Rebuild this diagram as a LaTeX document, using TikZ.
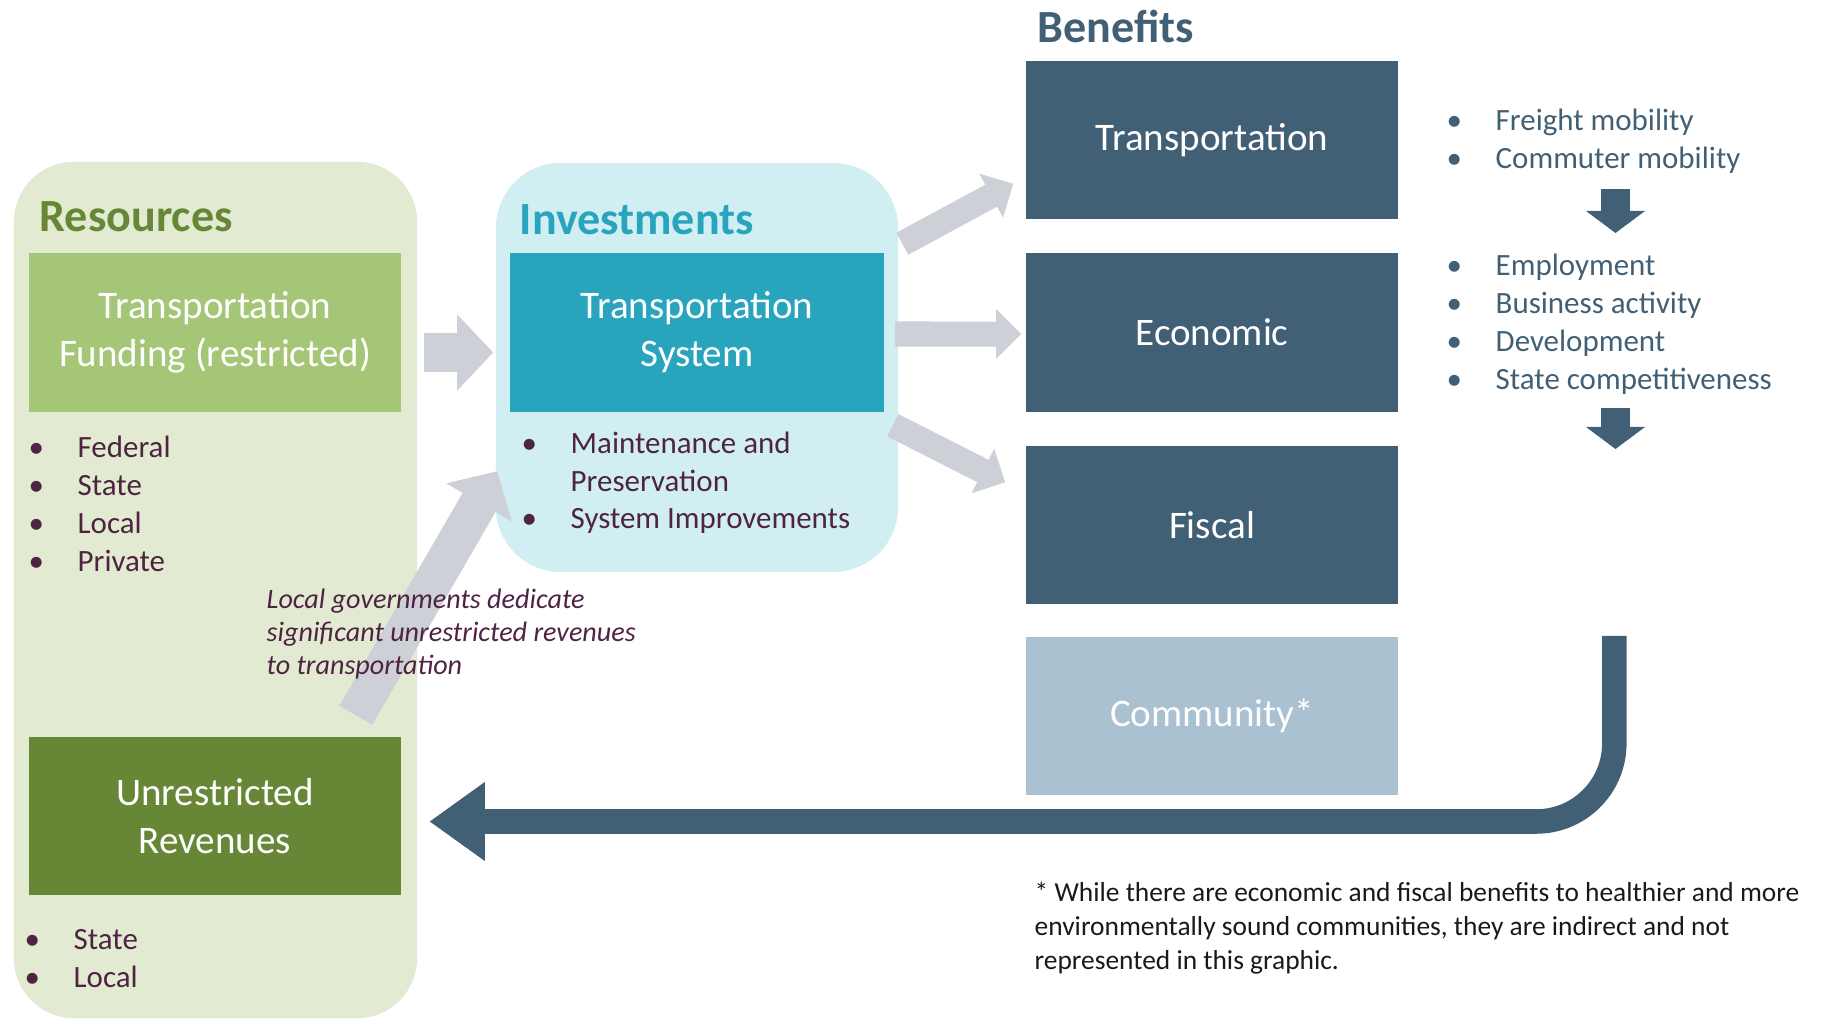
\documentclass[tikz,border=0pt]{standalone}
\usepackage{fontspec}
\setmainfont{Carlito}
\usetikzlibrary{positioning,calc,arrows.meta}
\definecolor{resbg}{HTML}{E2EBD1}
\definecolor{fundc}{HTML}{A6C677}
\definecolor{unresc}{HTML}{678636}
\definecolor{invbg}{HTML}{D1EEF3}
\definecolor{tsysc}{HTML}{29A4BD}
\definecolor{slate}{HTML}{415F75}
\definecolor{commc}{HTML}{A9C1D1}
\definecolor{arrgray}{HTML}{CDD0D6}
\definecolor{plum}{HTML}{4F2343}
\newcommand{\bitem}[1]{\makebox[0.49cm][l]{\textbullet}#1}

\begin{document}
\begin{tikzpicture}[
  x=0.01cm, y=-0.01cm,
  panel/.style={rectangle, rounded corners=0.6cm, minimum width=4.03cm, inner sep=0},
  box/.style={rectangle, fill=slate, text=white, align=center, minimum width=3.72cm, minimum height=1.58cm, inner sep=0, font=\fontsize{11.1}{13.7}\selectfont},
  head/.style={anchor=base west, inner sep=0, font=\bfseries\fontsize{13.1}{15}\selectfont},
  bul/.style={anchor=base west, inner sep=0, text=plum, font=\fontsize{8.8}{10.8}\selectfont},
  note/.style={anchor=north west, inner sep=0, align=left},
  bigarrow/.style={draw=arrgray, line width=0.38cm, -{Triangle[length=0.36cm, width=0.76cm, line width=0pt]}},
  smallarrow/.style={draw=arrgray, line width=0.25cm, -{Triangle[length=0.25cm, width=0.5cm, line width=0pt]}},
  backarrow/.style={draw=slate, line width=0.245cm, rounded corners=0.78cm, -{Triangle[length=0.55cm, width=0.79cm, line width=0pt]}},
  downarrow/.style={draw=slate, line width=0.29cm, -{Triangle[length=0.22cm, width=0.59cm, line width=0pt]}}
]
  \useasboundingbox (0,0) rectangle (1829,1021);

  \node[panel, fill=resbg, minimum height=8.56cm] (respanel) at (215.5,590) {};
  \node[panel, fill=invbg, minimum width=4.02cm, minimum height=4.09cm, rounded corners=0.65cm] (invpanel) at (697,367.5) {};

  \node[head, text=unresc] (reshead) at (39,231) {Resources};
  \node[head, text=tsysc] (invhead) at (519,234) {Investments};
  \node[head, text=slate] (benhead) at (1037,42) {Benefits};

  \node[box, fill=fundc] (funding) at (215,332.5) {Transportation\\Funding (restricted)};
  \node[box, fill=unresc] (unres) at (215,816) {Unrestricted\\Revenues};
  \node[box, fill=tsysc, minimum width=3.74cm] (tsys) at (697,332.5) {Transportation\\System};

  \node[box] (btrans) at (1212,140) {Transportation};
  \node[box, below=0.33cm of btrans] (beco) {Economic};
  \node[box, below=0.33cm of beco] (bfis) {Fiscal};
  \node[box, fill=commc, below=0.31cm of bfis] (bcom) {Community*};

  \foreach \t [count=\i from 0] in {Federal,State,Local,Private}
    \node[bul] (fb\i) at (28,{457+38*\i}) {\bitem{\t}};
  \foreach \t [count=\i from 0] in {State,Local}
    \node[bul] (ub\i) at (24,{949+38*\i}) {\bitem{\t}};
  \node[bul] (ib0) at (521,453) {\bitem{Maintenance and}};
  \node[bul] (ib1) at (570,491) {Preservation};
  \node[bul] (ib2) at (521,528) {\bitem{System Improvements}};
  \foreach \t [count=\i from 0] in {Freight mobility,Commuter mobility}
    \node[bul, text=slate] (tb\i) at (1446,{130+38*\i}) {\bitem{\t}};
  \foreach \t [count=\i from 0] in {Employment,Business activity,Development,State competitiveness}
    \node[bul, text=slate] (eb\i) at (1446,{275+38*\i}) {\bitem{\t}};

  \draw[bigarrow] ($(funding.east)+(22,20)$) -- ($(tsys.west)+(-16,20)$);
  \draw[bigarrow] ($(unres.north east)+(-46,-21)$) -- ($(tsys.south west)+(-12,59)$);
  \draw[smallarrow] ($(tsys.north east)+(17.5,-9)$) -- ($(btrans.south west)+(-12,-36)$);
  \draw[smallarrow] ($(tsys.east)+(10,1.5)$) -- ($(beco.west)+(-4,1.5)$);
  \draw[smallarrow] ($(tsys.south east)+(8,13)$) -- ($(bfis.north west)+(-20,37)$);

  \node[note, text=plum, font=\itshape\fontsize{8}{9.4}\selectfont] (lgnote) at (266,588) {Local governments dedicate\\significant unrestricted revenues\\to transportation};
  \node[note, text=black!90, font=\fontsize{7.8}{9.7}\selectfont] (fnote) at (1034,881) {* While there are economic and fiscal benefits to healthier and more\\environmentally sound communities, they are indirect and not\\represented in this graphic.};

  \coordinate (dn1) at (1615.5,189);
  \coordinate (dn2) at (1615.5,408);
  \draw[downarrow] (dn1) -- ++(0,44);
  \draw[downarrow] (dn2) -- ++(0,41);

  \draw[backarrow] ($(bcom.north east)+(215.5,0)$) |- ($(unres.east)+(28,5.5)$);
\end{tikzpicture}
\end{document}
